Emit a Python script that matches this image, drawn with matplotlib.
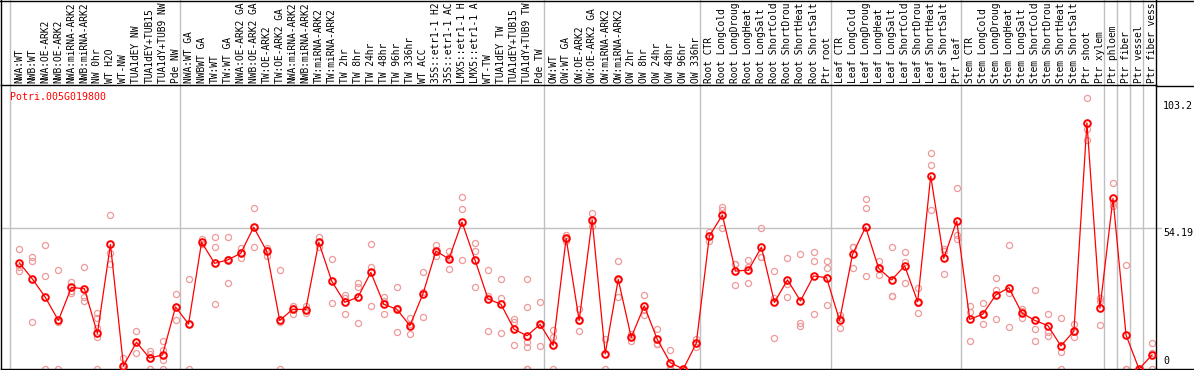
import matplotlib
matplotlib.use("Agg")
import matplotlib.pyplot as plt
from matplotlib.lines import Line2D
import matplotlib.transforms as mtransforms

gene_id = "Potri.005G019800"

group_sizes = [13, 28, 12, 10, 10, 11, 1, 1, 1, 1]

# sample labels as they show in the strip above the plot (cut to 14 chars)
samples = [
    "NWA:WT", "NWB:WT", "NWA:OE-ARK2", "NWB:OE-ARK2", "NWA:miRNA-ARK2", "NWB:miRNA-ARK2",
    "NW 0hr", "WT H2O", "WT-NW", "TUA1dEY NW", "TUA1dEY+TUB15", "TUA1dY+TUB9 NW", "Pde NW",
    "NWA:WT GA", "NWBWT GA", "TW:WT", "TW:WT GA", "NWA:OE-ARK2 GA", "NWB:OE-ARK2 GA",
    "TW:OE-ARK2", "TW:OE-ARK2 GA", "NWA:miRNA-ARK2", "NWB:miRNA-ARK2", "TW:miRNA-ARK2",
    "TW:miRNA-ARK2", "TW 2hr", "TW 8hr", "TW 24hr", "TW 48hr", "TW 96hr", "TW 336hr",
    "WT ACC", "35S::etr1-1 H2", "35S::etr1-1 AC", "LMX5::etr1-1 H", "LMX5::etr1-1 A",
    "WT-TW", "TUA1dEY TW", "TUA1dEY+TUB15", "TUA1dY+TUB9 TW", "Pde TW",
    "OW:WT", "OW:WT GA", "OW:OE-ARK2", "OW:OE-ARK2 GA", "OW:miRNA-ARK2", "OW:miRNA-ARK2",
    "OW 2hr", "OW 8hr", "OW 24hr", "OW 48hr", "OW 96hr", "OW 336hr",
    "Root CTR", "Root LongCold", "Root LongDroug", "Root LongHeat", "Root LongSalt",
    "Root ShortCold", "Root ShortDrou", "Root ShortHeat", "Root ShortSalt", "Ptr root",
    "Leaf CTR", "Leaf LongCold", "Leaf LongDroug", "Leaf LongHeat", "Leaf LongSalt",
    "Leaf ShortCold", "Leaf ShortDrou", "Leaf ShortHeat", "Leaf ShortSalt", "Ptr leaf",
    "Stem CTR", "Stem LongCold", "Stem LongDroug", "Stem LongHeat", "Stem LongSalt",
    "Stem ShortCold", "Stem ShortDrou", "Stem ShortHeat", "Stem ShortSalt", "Ptr shoot",
    "Ptr xylem", "Ptr phloem", "Ptr fiber", "Ptr vessel", "Ptr fiber vess",
]

means = [
    40.9, 34.7, 27.6, 18.7, 31.4, 30.9, 13.7, 48.0, 1.2, 10.3, 4.2, 5.4, 23.9,
    17.3, 48.8, 40.7, 42.0, 44.5, 54.6, 45.4, 18.7, 23.0, 22.9, 48.8, 33.8, 25.7, 27.6,
    37.2, 24.9, 23.0, 16.7, 28.9, 45.4, 42.4, 56.6, 42.0, 27.0, 24.9, 15.3, 12.8, 17.2,
    9.1, 50.3, 18.7, 57.4, 5.8, 34.5, 12.2, 24.3, 11.4, 2.4, 0.0, 10.0,
    51.2, 59.3, 37.7, 38.1, 46.9, 25.7, 34.3, 26.2, 35.8, 35.2,
    18.7, 44.2, 54.6, 38.8, 34.3, 39.7, 25.9, 74.3, 42.6, 57.0,
    19.1, 21.1, 28.5, 31.3, 21.6, 18.7, 16.7, 8.9, 14.6, 94.8, 23.4,
    65.7, 13.1, 0.0, 5.4,
]

replicates = [
    [46.1, 39.4, 37.7], [43.1, 41.6, 18.2], [47.6, 35.7, 0.0], [38.0, 18.1, 0.0],
    [33.6, 30.2, 29.1], [39.2, 27.6, 26.1], [21.4, 19.5, 15.9, 12.2, 0.0],
    [59.3, 44.5, 40.3], [4.1, 0.0, 0.0], [14.5, 10.3, 6.2], [6.9, 5.7, 0.0],
    [10.8, 7.5, 3.5, 0.0], [29.0, 24.0, 18.7],
    [34.5, 17.4, 0.0], [50.1, 48.8, 48.0], [50.7, 46.9, 24.9], [50.7, 42.3, 33.0],
    [46.5, 44.5, 42.6], [61.9, 54.8, 47.1], [46.7, 45.9, 43.6], [38.0, 18.1, 0.0],
    [24.4, 23.3, 21.3], [24.4, 22.9, 21.4], [50.7, 48.8, 46.9], [42.2, 33.8, 25.3],
    [28.5, 27.2, 21.3], [33.0, 31.7, 17.6], [48.0, 39.4, 24.1], [27.6, 26.0, 21.1],
    [31.5, 23.4, 14.1], [19.5, 17.2, 13.4], [37.2, 29.8, 19.9], [47.7, 45.0, 43.6],
    [45.4, 43.3, 38.5], [66.2, 61.6, 42.0], [48.4, 45.4, 31.5], [38.1, 28.2, 14.5],
    [34.5, 27.2, 13.7], [19.1, 18.0, 9.2], [34.5, 23.9, 10.5, 8.6, 0.0, 0.0],
    [25.7, 17.0, 8.9],
    [15.0, 12.2, 0.0], [51.6, 50.1, 49.3], [23.1, 18.5, 14.5], [59.9, 57.1, 55.2],
    [11.6, 5.8, 0.0], [41.6, 34.1, 27.8], [13.3, 12.4, 10.8], [28.5, 22.7, 20.8],
    [15.3, 9.5, 9.5], [7.2, 0.0, 0.0], [0.0, 0.0, 0.0], [11.4, 10.0, 8.6],
    [52.9, 51.3, 49.4], [62.5, 61.2, 54.2], [40.5, 40.3, 32.3], [42.0, 39.3, 33.0],
    [54.2, 43.3, 43.2], [37.7, 27.2, 11.8], [42.6, 32.6, 27.6], [44.2, 17.8, 16.6],
    [45.2, 41.6, 21.1], [41.6, 38.8, 24.6],
    [20.8, 19.5, 15.9], [47.0, 46.9, 38.8], [65.3, 61.9, 35.9], [41.6, 38.6, 36.2],
    [46.9, 28.1, 28.0], [44.9, 41.3, 33.0], [31.3, 25.3, 21.4], [83.1, 78.6, 61.1],
    [46.2, 45.4, 36.5], [69.6, 51.6, 50.1],
    [24.4, 22.1, 10.9], [25.3, 20.7, 17.3], [34.9, 30.4, 19.3], [47.6, 29.1, 16.1],
    [23.1, 22.2, 19.5], [30.4, 15.3, 10.9], [21.2, 14.4, 12.7], [19.8, 6.7, 0.0],
    [17.3, 14.3, 12.3], [104.2, 92.4, 88.2], [27.2, 26.2, 16.9],
    [71.5, 63.8, 62.9], [39.9, 0.0, 0.0], [0.0, 0.0, 0.0], [9.9, 6.0, 0.0],
]

axis_ticks = [103.2, 54.19, 0]

W, H = 1194, 370
LEFT, RIGHT, TOP, BOTTOM = 1, 1156, 85, 369
X0, STEP = 19.3, 13.02      # pixel centre of first sample, pixel pitch
PX_PER_UNIT = 2.597

mono = "DejaVu Sans Mono"
grey = "#c0c0c0"
red = "#ff0000"
pink = "#ee9a9a"

fig = plt.figure(figsize=(W / 100, H / 100), dpi=100)
ax = fig.add_axes([LEFT / W, (H - BOTTOM) / H, (RIGHT - LEFT) / W, (BOTTOM - TOP) / H])
ax.set_xlim((LEFT - X0) / STEP, (RIGHT - X0) / STEP)
ax.set_ylim(0, (BOTTOM - TOP) / PX_PER_UNIT)
ax.set_xticks([])
ax.set_yticks([])
for s in ax.spines.values():
    s.set_color("black")
    s.set_linewidth(1.0)

x = list(range(len(samples)))

# replicate points
for i, reps in enumerate(replicates):
    ax.plot([i] * len(reps), reps, linestyle="none", marker="o", ms=4.4,
            mfc="none", mec=pink, mew=0.9, zorder=2)

ax.plot(x, means, color=red, lw=0.9, zorder=3)
ax.plot(x, means, linestyle="none", marker="o", ms=4.8, mfc="none",
        mec=red, mew=1.4, zorder=4)

# gridline at the middle tick
ax.axhline(axis_ticks[1], xmin=0, xmax=(1161 - LEFT) / (RIGHT - LEFT),
           color=grey, lw=1.0, zorder=1, clip_on=False)

# group separators run through the label strip
start = 0
for size in group_sizes:
    ax.axvline(start - 9 / STEP, ymin=0, ymax=1 + TOP / (BOTTOM - TOP),
               color=grey, lw=1.0, zorder=1, clip_on=False)
    start += size

# sample labels above the plot
lab_tr = mtransforms.blended_transform_factory(ax.transData, ax.transAxes)
for i, name in enumerate(samples):
    ax.text(i, 1 + 2 / (BOTTOM - TOP), name, transform=lab_tr, rotation=90,
            ha="center", va="bottom", family=mono, fontsize=6.95, clip_on=False)

ax.text((10 - X0) / STEP, (BOTTOM - 97) / PX_PER_UNIT, gene_id,
        color=red, family=mono, fontsize=7.1, ha="left", va="center")

# value labels on the right
tick_tr = mtransforms.blended_transform_factory(ax.transAxes, ax.transData)
tx = (1163 - LEFT) / (RIGHT - LEFT)
ax.text(tx, axis_ticks[0], f"{axis_ticks[0]}", transform=tick_tr, family=mono,
        fontsize=7.2, ha="left", va="top", clip_on=False)
ax.text(tx, axis_ticks[1], f"{axis_ticks[1]}", transform=tick_tr, family=mono,
        fontsize=7.2, ha="left", va="top", clip_on=False)
ax.text(tx, 1.2, f"{axis_ticks[2]}", transform=tick_tr, family=mono,
        fontsize=7.2, ha="left", va="bottom", clip_on=False)

# outer frame lines
def hline(y, x1, x2):
    fig.add_artist(Line2D([x1 / W, x2 / W], [1 - (y + 0.5) / H] * 2, color="black", lw=1.0))

def vline(xp, y1, y2):
    fig.add_artist(Line2D([(xp + 0.5) / W] * 2, [1 - y1 / H, 1 - y2 / H], color="black", lw=1.0))

hline(0, 0, W)
hline(TOP, RIGHT, W)
hline(BOTTOM - 0.5, RIGHT, W)
vline(0, 0, TOP)
vline(RIGHT - 0.5, 0, TOP)

fig.savefig("out.png", dpi=100)
